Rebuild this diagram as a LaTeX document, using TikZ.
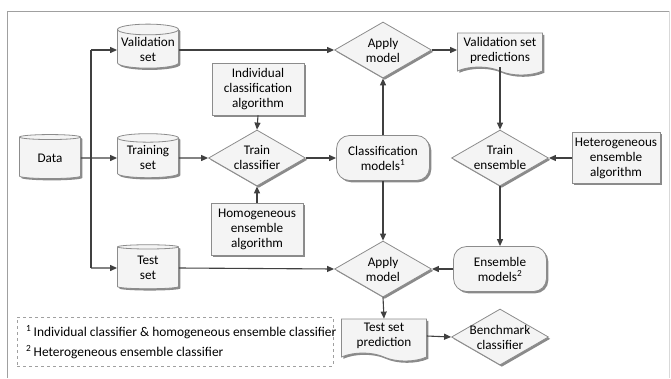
\documentclass[tikz,border=0pt]{standalone}
\usepackage{fontspec}
\setmainfont{Carlito}
\usetikzlibrary{shapes.geometric,shapes.symbols,shadows,arrows.meta}
\definecolor{bordergray}{HTML}{8C8C8C}
\definecolor{fillgray}{HTML}{F4F4F4}
\definecolor{shadowgray}{HTML}{8A8A8A}
\definecolor{linegray}{HTML}{404040}
\definecolor{framegray}{HTML}{A0A0A0}
\tikzset{
  base/.style={draw=bordergray, fill=fillgray, line width=0.8pt,
    font=\fontsize{13.2}{15}\selectfont, align=center, inner sep=0pt,
    drop shadow={shadow xshift=1.8pt, shadow yshift=-1.8pt, fill=shadowgray, opacity=1}},
  db/.style={base, cylinder, shape border rotate=90, aspect=0.2,
    minimum width=61pt, minimum height=44pt},
  decision/.style={base, diamond, aspect=1.75, minimum width=97pt, minimum height=56pt},
  algobox/.style={base, rectangle, minimum width=92pt, minimum height=52pt},
  modelbox/.style={base, rectangle, rounded corners=13pt, minimum width=93pt, minimum height=45pt},
  docbox/.style={base, tape, tape bend top=none, tape bend bottom=out and in,
    tape bend height=8pt, minimum width=85pt, minimum height=42pt},
  conn/.style={draw=linegray, line width=1.1pt, -{Triangle[length=7pt,width=6pt]}},
  plainline/.style={draw=linegray, line width=1.1pt},
  notebox/.style={draw=framegray, dashed, line width=0.6pt},
  notetext/.style={font=\fontsize{13.4}{15}\selectfont, anchor=west, inner sep=0pt}
}
\begin{document}
\begin{tikzpicture}[x=1pt, y=-1pt]
\useasboundingbox (0,0) rectangle (671,378);
% frame
\draw[framegray, line width=0.9pt] (7,378) -- (7,11) -- (669,11);
\draw[framegray!40, line width=0.8pt] (669,11) -- (669,378);

% nodes
\node[db] (data) at (50,158) {Data};
\node[db] (valid) at (148,49) {Validation\\set};
\node[db] (train) at (148,158) {Training\\set};
\node[db] (test) at (148,268) {Test\\set};

\node[algobox] (indiv) at (258,89) {Individual\\classification\\algorithm};
\node[decision] (trainc) at (257,158) {Train\\classifier};
\node[algobox] (homog) at (257,229) {Homogeneous\\ensemble\\algorithm};

\node[decision] (apply1) at (383,50) {Apply\\model};
\node[modelbox] (classm) at (383,158) {Classification\\models\textsuperscript{1}};
\node[decision] (apply2) at (383,269) {Apply\\model};

\node[docbox] (vsp) at (500,50) {Validation set\\predictions};
\node[decision] (traine) at (500,158) {Train\\ensemble};
\node[modelbox] (ensm) at (500,269) {Ensemble\\models\textsuperscript{2}};
\node[algobox, minimum width=88pt, minimum height=51pt] (hetero) at (616,158) {Heterogeneous\\ensemble\\algorithm};

\node[docbox] (tsp) at (384,336) {Test set\\prediction};
\node[decision, inner xsep=-6pt] (bench) at (500,337) {Benchmark\\classifier};

% footnote box
\node[notebox, minimum width=316pt, minimum height=49pt, inner sep=0pt] (notes) at (175,341.5) {};
\node[notetext] (n1) at (26,332) {\textsuperscript{1}\,Individual classifier \& homogeneous ensemble classifier};
\node[notetext] (n2) at (26,352) {\textsuperscript{2}\,Heterogeneous ensemble classifier};

% connectors
\coordinate (jv) at (91,50);
\coordinate (jt) at (91,268);
\draw[plainline] (jv) -- (jt);
\draw[conn] (data.east) -- (train.west);
\draw[conn] (jv) -- (valid.west |- jv);
\draw[conn] (jt) -- (test.west);
\draw[conn] (valid.east |- apply1.west) -- (apply1.west);
\draw[conn] (train.east) -- (trainc.west);
\draw[conn] (test.east) -- (apply2.west);
\draw[conn] (indiv.south) -- (trainc.north);
\draw[conn] (homog.north) -- (trainc.south);
\draw[conn] (trainc.east) -- (classm.west);
\draw[conn] (classm.north) -- (apply1.south);
\draw[conn] (classm.south) -- (apply2.north);
\draw[conn] (apply1.east) -- (vsp.west);
\draw[conn] (vsp.south) -- (traine.north);
\draw[conn] (hetero.west) -- (traine.east);
\draw[conn] (traine.south) -- (ensm.north);
\draw[conn] (ensm.west) -- (apply2.east);
\draw[conn] (apply2.south) -- (tsp.north);
\draw[conn] (tsp.east) -- (bench.west);
\end{tikzpicture}
\end{document}
